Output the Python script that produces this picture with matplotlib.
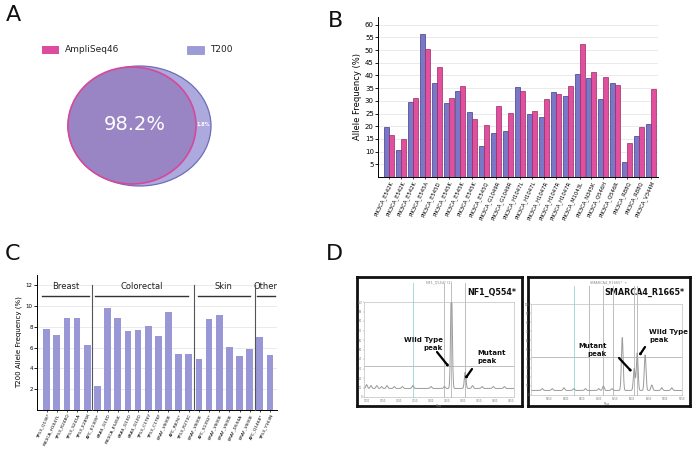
import numpy as np
import matplotlib.pyplot as plt
from matplotlib.patches import Ellipse, Rectangle, FancyArrowPatch

# ---------------- data ----------------
venn_labels = ["AmpliSeq46", "T200"]
venn_overlap_text = "98.2%"
venn_unique_text = "1.8%"

b_labels = ["PIK3CA_E542K", "PIK3CA_E542K", "PIK3CA_E542K", "PIK3CA_E545A", "PIK3CA_E545D",
            "PIK3CA_E545K", "PIK3CA_E545K", "PIK3CA_E545K", "PIK3CA_E545Q", "PIK3CA_G1049R",
            "PIK3CA_G1049R", "PIK3CA_H1047L", "PIK3CA_H1047L", "PIK3CA_H1047R", "PIK3CA_H1047R",
            "PIK3CA_H1047R", "PIK3CA_M1043L", "PIK3CA_N345K", "PIK3CA_Q546H", "PIK3CA_Q546R",
            "PIK3CA_R88Q", "PIK3CA_R88Q", "PIK3CA_V344M"]
b_t200 = [19.5, 10.5, 29.5, 56.5, 37.0, 29.3, 34.0, 25.5, 12.3, 17.3, 18.3, 35.6, 24.8, 23.5,
          33.3, 32.0, 40.5, 38.8, 30.8, 37.0, 6.0, 16.0, 20.8]
b_ampliseq = [16.5, 15.0, 31.0, 50.3, 43.3, 31.0, 36.0, 22.7, 20.5, 28.0, 25.3, 34.0, 26.0, 30.8,
              32.8, 35.8, 52.5, 41.4, 39.3, 36.4, 13.3, 19.6, 34.5]

c_labels = ["TP53_Q136*", "PIK3CA_H1047L", "TP53_R248Q", "TP53_S241A", "TP53_E285K",
            "APC_E1309*", "KRAS_G13D", "PIK3CA_E545K", "KRAS_G13D", "KRAS_G12D",
            "TP53_C176Y", "TP53_C176F", "BRAF_V600E", "APC_R876*", "TP53_R273C",
            "BRAF_V600E", "APC_S1392*", "BRAF_V600E", "BRAF_V600E", "BRAF_D594A",
            "BRAF_V600E", "APC_Q1468*", "TP53_Y163N"]
c_values = [7.8, 7.2, 8.9, 8.9, 6.3, 2.3, 9.8, 8.9, 7.6, 7.7, 8.1, 7.1, 9.4, 5.4, 5.4,
            4.95, 8.8, 9.15, 6.05, 5.2, 5.9, 7.0, 5.3]
c_groups = ["Breast", "Colorectal", "Skin", "Other"]
c_group_start = [-0.49, 4.8, 14.9, 20.7]
c_group_end = [4.18, 13.95, 20.0, 22.5]
c_dividers = [4.5, 14.5, 20.5]

# spectra (peak positions / heights)
nf1_peak_mz = [6998, 7012, 7030, 7045, 7062, 7085, 7110, 7143, 7200, 7242, 7264, 7307, 7330, 7360, 7395, 7430]
nf1_peak_int = [4, 3, 3, 2, 3, 2, 2, 3, 2, 2, 110, 17, 3, 2, 2, 2]
nf1_lines = [7143, 7242, 7264, 7307]
nf1_ticks = [7000, 7050, 7100, 7150, 7200, 7250, 7300, 7350, 7400, 7450]

sm_peak_mz = [5330, 5360, 5395, 5425, 5460, 5500, 5514, 5540, 5571, 5607, 5616, 5640, 5660, 5690, 5720]
sm_peak_int = [2, 2, 3, 2, 2, 2, 5, 2, 58, 24, 41, 39, 6, 3, 3]
sm_lines = [5425, 5470, 5514, 5544, 5607, 5616]
sm_ticks = [5350, 5400, 5450, 5500, 5550, 5600, 5650, 5700, 5750]

# ---------------- figure ----------------
W, H = 699, 449
fig = plt.figure(figsize=(W / 100, H / 100), dpi=100)


def rect(l, t, r, b):
    return [l / W, 1 - b / H, (r - l) / W, (b - t) / H]


def fxy(x, y):
    return (x / W, 1 - y / H)


BLUE = "#7a77c6"
PINK = "#e0509e"
grid_col = "#e6e6e6"

# ---------------- Panel B ----------------
axB = fig.add_axes(rect(378, 17, 658, 177))
xb = np.arange(len(b_labels))
axB.bar(xb - 0.21, b_t200, width=0.42, color=BLUE, edgecolor="#3f3d8a", linewidth=0.5, zorder=3)
axB.bar(xb + 0.21, b_ampliseq, width=0.42, color=PINK, edgecolor="#9c2a63", linewidth=0.5, zorder=3)
axB.set_xlim(-0.92, 22.59)
axB.set_ylim(0, 63)
axB.set_yticks(np.arange(5, 61, 5))
axB.yaxis.grid(True, color=grid_col, linewidth=0.6, zorder=0)
axB.set_xticks(xb)
axB.set_xticklabels(b_labels, rotation=65, ha="right", rotation_mode="anchor", fontsize=3.8)
axB.tick_params(axis="y", labelsize=5, length=2, width=0.6, pad=1)
axB.tick_params(axis="x", length=1.5, width=0.5, pad=1)
for s in ["top", "right"]:
    axB.spines[s].set_visible(False)
for s in ["left", "bottom"]:
    axB.spines[s].set_linewidth(0.7)
axB.set_ylabel("Allele Frequency (%)", fontsize=6, labelpad=2)

# ---------------- Panel C ----------------
axC = fig.add_axes(rect(37, 275, 277, 410))
xc = np.arange(len(c_labels))
axC.bar(xc, c_values, width=0.66, color="#9a97d6", zorder=3)
axC.set_xlim(-0.95, 22.69)
axC.set_ylim(0, 13)
axC.set_yticks(np.arange(2, 13, 2))
axC.yaxis.grid(True, color=grid_col, linewidth=0.6, zorder=0)
axC.set_xticks(xc)
axC.set_xticklabels(c_labels, rotation=65, ha="right", rotation_mode="anchor", fontsize=3.2)
axC.tick_params(axis="y", labelsize=4, length=2, width=0.6, pad=1)
axC.tick_params(axis="x", length=1.5, width=0.5, pad=1)
for s in ["top", "right"]:
    axC.spines[s].set_visible(False)
for s in ["left", "bottom"]:
    axC.spines[s].set_linewidth(0.7)
axC.set_ylabel("T200 Allele Frequency (%)", fontsize=5, labelpad=3)
for d in c_dividers:
    axC.plot([d, d], [0, 12.0], color="#555555", linewidth=0.8, zorder=4, clip_on=False)
for name, s, e in zip(c_groups, c_group_start, c_group_end):
    axC.plot([s, e], [11.0, 11.0], color="#333333", linewidth=1.0, zorder=4, clip_on=False)
    axC.text((s + e) / 2, 11.85, name, ha="center", va="center", fontsize=6, color="#222222")

# ---------------- Panel D ----------------
def spectrum(outer, inner, peak_mz, peak_int, lines, ticks, xlim, hline, title, header, base):
    axo = fig.add_axes(rect(*outer))
    axo.set_xticks([])
    axo.set_yticks([])
    for s in axo.spines.values():
        s.set_linewidth(2.0)
        s.set_color("#111111")
    axo.text(0.5, 0.975, header, transform=axo.transAxes, ha="center", va="top",
             fontsize=2.5, color="#888888")
    axi = fig.add_axes(rect(*inner))
    axi.set_xlim(*xlim)
    axi.set_ylim(0, 100)
    mz = np.linspace(xlim[0], xlim[1], 1500)
    sig = np.full_like(mz, base)
    for m, h in zip(peak_mz, peak_int):
        sig += h * np.exp(-0.5 * ((mz - m) / 2.6) ** 2)
    for i, lx in enumerate(lines):
        axi.axvline(lx, ymin=0, ymax=1.2, color="#a8dada" if i == 0 else "#bdbdbd",
                    linewidth=0.7, clip_on=False, zorder=1)
    axi.axhline(hline, color="#bdbdbd", linewidth=0.7, zorder=1)
    axi.plot(mz, sig, color="#9a9a9a", linewidth=0.7, zorder=2)
    axi.set_xticks(ticks)
    axi.set_xticklabels([str(t) for t in ticks])
    axi.set_yticks(np.arange(0, 101, 10))
    axi.tick_params(labelsize=1.8, length=1, width=0.3, pad=0.5, colors="#777777")
    axi.set_xlabel("Mass", fontsize=1.8, labelpad=0.5, color="#777777")
    for s in axi.spines.values():
        s.set_linewidth(0.5)
        s.set_color("#c0c0c0")
    axo.text(0.965, 0.88, title, transform=axo.transAxes, ha="right", va="center",
             fontsize=5.8, fontweight="bold", color="#111111")
    return axi


spectrum((357, 277, 522, 406), (364, 302, 514, 397), nf1_peak_mz, nf1_peak_int, nf1_lines,
         nf1_ticks, (6990, 7460), 33, "NF1_Q554*", "NF1_Q554* (2)", 9)
spectrum((528, 277, 690, 406), (531, 304, 682, 395), sm_peak_mz, sm_peak_int, sm_lines,
         sm_ticks, (5296, 5751), 42, "SMARCA4_R1665*", "SMARCA4_R1665*  +", 5)

arrow = dict(arrowstyle="-|>,head_width=0.25,head_length=0.45", color="black", lw=1.6,
             shrinkA=0, shrinkB=0)
txt_kw = dict(va="center", fontsize=5, fontweight="bold", color="#111111", linespacing=1.3)
fig.text(*fxy(443, 344), "Wild Type\npeak", ha="right", **txt_kw)
fig.text(*fxy(477, 357), "Mutant\npeak", ha="left", **txt_kw)
fig.text(*fxy(607, 350), "Mutant\npeak", ha="right", **txt_kw)
fig.text(*fxy(649, 336), "Wild Type\npeak", ha="left", **txt_kw)
for (x0, y0, x1, y1) in [(437, 352, 449, 367), (472, 369, 465, 379),
                         (619, 358, 632, 372), (645, 347, 639, 356)]:
    fig.add_artist(FancyArrowPatch(fxy(x0, y0), fxy(x1, y1), transform=fig.transFigure, **arrow))

# ---------------- Panel A + letters (pixel overlay) ----------------
axA = fig.add_axes([0, 0, 1, 1])
axA.set_xlim(0, W)
axA.set_ylim(H, 0)
axA.axis("off")
axA.patch.set_alpha(0)
axA.add_patch(Ellipse((139.5, 126), 143, 120, facecolor="#aba9dd", edgecolor="#6d6db8", linewidth=0.9))
axA.add_patch(Ellipse((132, 125.5), 128, 117, facecolor="#9985c4", edgecolor="#d6489c", linewidth=1.2))
axA.text(135, 124, venn_overlap_text, ha="center", va="center", fontsize=14, color="white")
axA.text(203, 124, venn_unique_text, ha="center", va="center", fontsize=3.5, color="white",
         fontweight="bold")
axA.add_patch(Rectangle((42, 46), 17, 8, facecolor="#de4c9f", edgecolor="none"))
axA.add_patch(Rectangle((187, 46), 17, 8, facecolor="#9d9ad8", edgecolor="#7d7ac0", linewidth=0.4))
axA.text(65, 50, venn_labels[0], ha="left", va="center", fontsize=6.5, color="#222222")
axA.text(210, 50, venn_labels[1], ha="left", va="center", fontsize=6.5, color="#222222")

for letter, (x, y) in zip("ABCD", [(13, 15), (335, 21), (12, 254), (334, 254)]):
    axA.text(x, y, letter, ha="center", va="center", fontsize=16, color="#111111")

fig.savefig("out.png", dpi=100)
